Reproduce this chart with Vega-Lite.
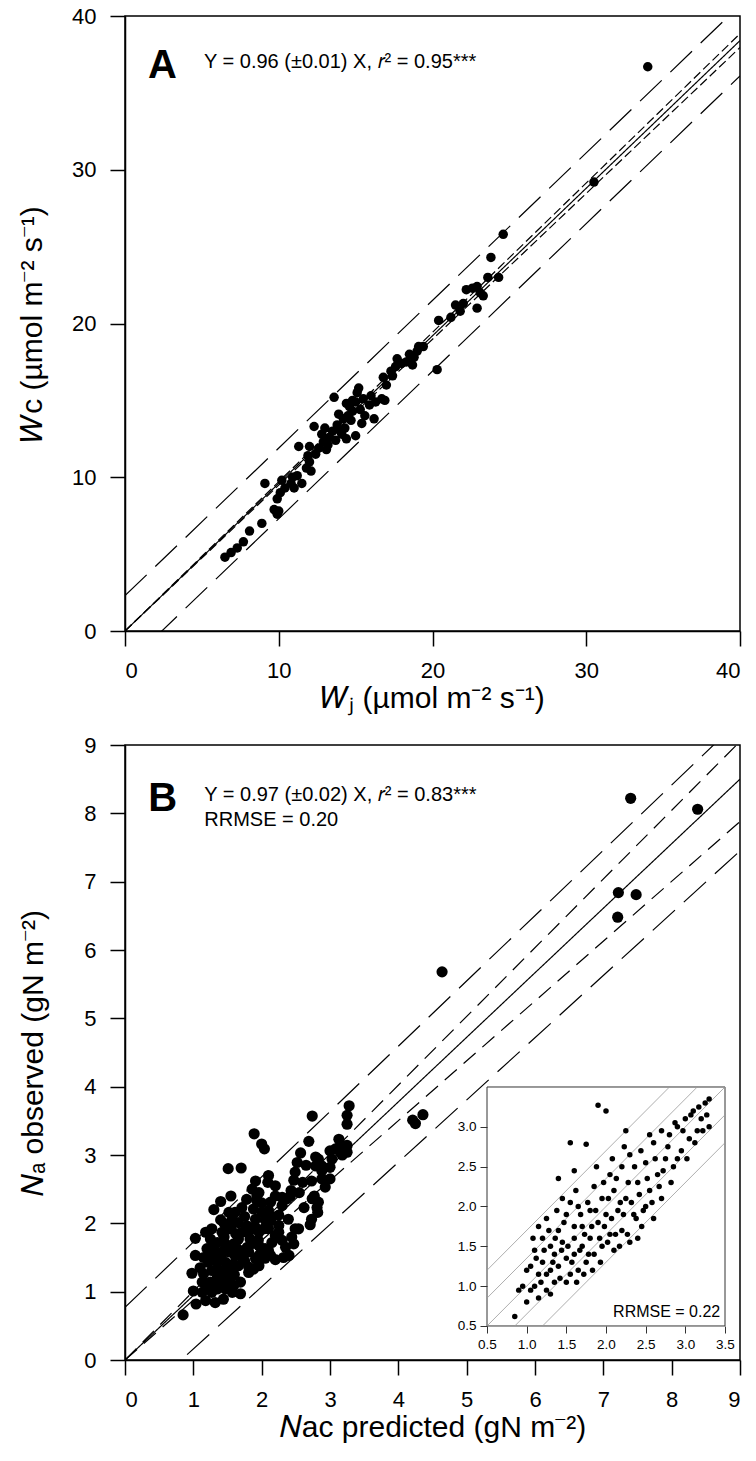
{
"$schema": "https://vega.github.io/schema/vega-lite/v6.json",
"padding": {"left": 16, "top": 4, "right": 18, "bottom": 5},
"spacing": 19,
"config": {
  "font": "Liberation Sans",
  "view": {"stroke": "black", "strokeWidth": 1.5},
  "axis": {"domainColor": "black", "domainWidth": 1.5, "tickColor": "black", "tickWidth": 1.5, "tickSize": 15, "labelFontSize": 22, "labelColor": "black", "labelFont": "Liberation Sans", "titleFont": "Liberation Sans", "titleFontSize": 30, "titleFontWeight": "normal", "titleColor": "black", "labelPadding": 14, "grid": false}
},
"vconcat": [
{
  "width": 615, "height": 615,
  "encoding": {
    "x": {"field": "x", "type": "quantitative", "scale": {"domain": [0, 40], "nice": false}, "axis": {"values": [0, 10, 20, 30, 40], "title": "𝑊ⱼ (µmol m⁻² s⁻¹)", "titlePadding": 2}},
    "y": {"field": "y", "type": "quantitative", "scale": {"domain": [0, 40], "nice": false}, "axis": {"values": [0, 10, 20, 30, 40], "title": "𝑊c (µmol m⁻² s⁻¹)", "titlePadding": 24}}
  },
  "layer": [
    {"data": {"values": [
      {"id": "reg", "s": "solid", "x": 0, "y": 0}, {"id": "reg", "s": "solid", "x": 40, "y": 38.4},
      {"id": "ciu", "s": "short", "x": 0, "y": 0}, {"id": "ciu", "s": "short", "x": 40, "y": 38.85},
      {"id": "cil", "s": "short", "x": 0, "y": 0}, {"id": "cil", "s": "short", "x": 40, "y": 37.95},
      {"id": "piu", "s": "long", "x": 0, "y": 2.3}, {"id": "piu", "s": "long", "x": 40, "y": 40.7},
      {"id": "pil", "s": "long", "x": 0, "y": -2.3}, {"id": "pil", "s": "long", "x": 40, "y": 36.1}
    ]},
     "mark": {"type": "line", "color": "black", "strokeWidth": 1.2, "clip": true},
     "encoding": {"detail": {"field": "id"}, "strokeDash": {"field": "s", "type": "nominal", "scale": {"domain": ["solid", "long", "short", "medium"], "range": [[1, 0], [30, 12], [9, 4], [16, 9]]}, "legend": null}}},
    {"data": {"values": [
      {"x":6.5,"y":4.8},{"x":6.9,"y":5.1},{"x":7.3,"y":5.4},{"x":7.7,"y":5.8},{"x":8.1,"y":6.5},{"x":8.9,"y":7.0},{"x":9.1,"y":9.6},{"x":9.7,"y":7.9},{"x":9.9,"y":7.6},{"x":9.9,"y":8.6},{"x":10.1,"y":9.0},{"x":10.2,"y":9.8},{"x":10.4,"y":9.3},{"x":10.8,"y":9.6},{"x":10.9,"y":10.0},{"x":11.2,"y":10.1},{"x":11.3,"y":12.0},{"x":11.5,"y":9.6},{"x":11.8,"y":10.6},{"x":12.0,"y":11.0},{"x":12.1,"y":10.4},{"x":12.4,"y":11.5},{"x":12.3,"y":13.3},{"x":12.6,"y":11.9},{"x":12.9,"y":12.3},{"x":13.1,"y":11.8},{"x":13.3,"y":12.6},{"x":13.6,"y":15.2},{"x":13.5,"y":13.0},{"x":13.7,"y":12.4},{"x":13.8,"y":13.4},{"x":14.0,"y":13.0},{"x":14.1,"y":12.8},{"x":14.2,"y":13.8},{"x":14.3,"y":13.2},{"x":14.5,"y":14.0},{"x":14.4,"y":12.5},{"x":14.6,"y":14.6},{"x":14.8,"y":14.3},{"x":14.8,"y":15.0},{"x":15.0,"y":14.9},{"x":15.1,"y":15.5},{"x":15.2,"y":15.8},{"x":15.3,"y":14.4},{"x":15.0,"y":12.7},{"x":15.4,"y":13.5},{"x":15.6,"y":14.0},{"x":15.9,"y":14.7},{"x":16.2,"y":13.8},{"x":16.3,"y":14.9},{"x":16.7,"y":15.1},{"x":16.9,"y":15.0},{"x":16.8,"y":16.5},{"x":17.4,"y":16.6},{"x":17.6,"y":17.2},{"x":17.7,"y":17.7},{"x":18.0,"y":17.4},{"x":18.3,"y":17.5},{"x":18.7,"y":17.3},{"x":18.8,"y":17.8},{"x":19.0,"y":18.2},{"x":19.1,"y":18.5},{"x":19.4,"y":18.5},{"x":20.3,"y":17.0},{"x":20.4,"y":20.2},{"x":21.2,"y":20.4},{"x":21.5,"y":21.2},{"x":21.8,"y":20.8},{"x":22.0,"y":21.3},{"x":22.2,"y":22.2},{"x":22.6,"y":22.3},{"x":22.9,"y":22.4},{"x":23.1,"y":22.0},{"x":22.9,"y":21.0},{"x":23.3,"y":21.8},{"x":23.6,"y":23.0},{"x":23.8,"y":24.3},{"x":24.3,"y":23.0},{"x":24.6,"y":25.8},{"x":30.5,"y":29.2},{"x":34.0,"y":36.7},{"x":10.0,"y":7.8},{"x":11.0,"y":9.3},{"x":12.8,"y":12.8},{"x":13.0,"y":13.2},{"x":13.9,"y":14.1},{"x":14.7,"y":13.7},{"x":15.5,"y":15.1},{"x":16.0,"y":15.3},{"x":17.0,"y":16.0},{"x":17.3,"y":16.9},{"x":18.5,"y":18.0},{"x":14.4,"y":14.8},{"x":13.2,"y":12.1},{"x":12.0,"y":12.0},{"x":11.9,"y":11.4}
    ]},
     "mark": {"type": "circle", "color": "black", "opacity": 1, "size": 90}},
    {"data": {"values": [{"x": 1.5, "y": 35.95, "t": "A"}]},
     "mark": {"type": "text", "fontSize": 40, "fontWeight": "bold", "align": "left", "baseline": "alphabetic", "color": "black"},
     "encoding": {"text": {"field": "t"}}},
    {"data": {"values": [{"x": 5.14, "y": 37.0, "t": "Y = 0.96 (±0.01) X, 𝑟² = 0.95***"}]},
     "mark": {"type": "text", "fontSize": 20, "align": "left", "baseline": "middle", "color": "black"},
     "encoding": {"text": {"field": "t"}}}
  ]
},
{
  "width": 615, "height": 615,
  "resolve": {"scale": {"x": "independent", "y": "independent"}},
  "layer": [
    {
      "encoding": {
        "x": {"field": "x", "type": "quantitative", "scale": {"domain": [0, 9], "nice": false}, "axis": {"values": [0, 1, 2, 3, 4, 5, 6, 7, 8, 9], "title": "𝑁ac predicted  (gN m⁻²)", "titlePadding": 2}},
        "y": {"field": "y", "type": "quantitative", "scale": {"domain": [0, 9], "nice": false}, "axis": {"values": [0, 1, 2, 3, 4, 5, 6, 7, 8, 9], "title": "𝑁ₐ observed (gN m⁻²)", "titlePadding": 35}}
      },
      "layer": [
        {"data": {"values": [
          {"id": "reg", "s": "solid", "x": 0, "y": 0}, {"id": "reg", "s": "solid", "x": 9, "y": 8.5},
          {"id": "mu", "s": "medium", "x": 0, "y": 0}, {"id": "mu", "s": "medium", "x": 9, "y": 9.05},
          {"id": "ml", "s": "medium", "x": 0, "y": 0}, {"id": "ml", "s": "medium", "x": 9, "y": 7.88},
          {"id": "lu", "s": "long", "x": 0, "y": 0.77}, {"id": "lu", "s": "long", "x": 9, "y": 9.37},
          {"id": "ll", "s": "long", "x": 0, "y": -0.75}, {"id": "ll", "s": "long", "x": 9, "y": 7.45}
        ]},
         "mark": {"type": "line", "color": "black", "strokeWidth": 1.2, "clip": true},
         "encoding": {"detail": {"field": "id"}, "strokeDash": {"field": "s", "type": "nominal", "scale": {"domain": ["solid", "long", "short", "medium"], "range": [[1, 0], [30, 12], [9, 4], [16, 9]]}, "legend": null}}},
        {"data": {"values": [
          {"x":0.85,"y":0.66},{"x":1.04,"y":0.82},{"x":1.03,"y":1.78},{"x":1.03,"y":1.53},{"x":0.98,"y":1.27},{"x":1.0,"y":1.01},{"x":1.18,"y":1.87},{"x":1.30,"y":2.20},{"x":1.40,"y":2.32},{"x":1.51,"y":2.80},{"x":1.70,"y":2.81},{"x":1.89,"y":3.31},{"x":2.0,"y":3.16},{"x":2.04,"y":3.09},{"x":2.74,"y":3.57},{"x":2.69,"y":3.20},{"x":3.28,"y":3.72},{"x":3.25,"y":3.58},{"x":3.25,"y":3.45},{"x":2.57,"y":3.03},{"x":2.52,"y":2.89},{"x":2.49,"y":2.75},{"x":2.47,"y":2.63},{"x":2.43,"y":2.48},{"x":2.37,"y":2.36},{"x":2.3,"y":2.38},{"x":2.1,"y":2.7},{"x":2.09,"y":2.6},{"x":1.91,"y":2.62},{"x":1.86,"y":2.5},{"x":1.93,"y":2.4},{"x":2.2,"y":2.4},{"x":2.13,"y":2.31},{"x":2.25,"y":2.12},{"x":2.39,"y":2.06},{"x":2.62,"y":2.23},{"x":2.73,"y":2.62},{"x":2.77,"y":2.40},{"x":2.79,"y":2.97},{"x":2.83,"y":2.94},{"x":2.79,"y":2.84},{"x":2.88,"y":2.77},{"x":3.0,"y":2.82},{"x":3.0,"y":3.06},{"x":3.08,"y":3.09},{"x":3.13,"y":3.23},{"x":3.18,"y":3.0},{"x":3.25,"y":3.14},{"x":3.25,"y":3.04},{"x":3.15,"y":3.04},{"x":2.88,"y":2.65},{"x":3.0,"y":2.65},{"x":2.93,"y":2.53},{"x":2.81,"y":2.23},{"x":2.82,"y":2.16},{"x":2.73,"y":2.06},{"x":2.71,"y":1.98},{"x":2.54,"y":1.92},{"x":2.49,"y":1.92},{"x":2.44,"y":1.8},{"x":2.47,"y":1.7},{"x":2.35,"y":1.65},{"x":2.4,"y":1.53},{"x":2.32,"y":1.5},{"x":2.2,"y":1.47},{"x":2.05,"y":1.49},{"x":2.05,"y":1.63},{"x":2.2,"y":1.82},{"x":2.1,"y":1.92},{"x":1.96,"y":1.87},{"x":1.83,"y":1.77},{"x":1.79,"y":1.65},{"x":1.81,"y":1.28},{"x":1.69,"y":1.14},{"x":1.69,"y":0.97},{"x":1.47,"y":1.04},{"x":1.44,"y":0.89},{"x":1.32,"y":0.84},{"x":1.18,"y":0.87},{"x":1.13,"y":0.99},{"x":1.27,"y":0.99},{"x":1.42,"y":1.18},{"x":1.57,"y":1.23},{"x":1.66,"y":1.38},{"x":1.91,"y":1.48},{"x":1.96,"y":1.67},{"x":1.91,"y":2.06},{"x":2.0,"y":2.16},{"x":2.1,"y":2.19},{"x":2.3,"y":2.26},{"x":1.88,"y":2.21},{"x":1.71,"y":2.23},{"x":1.61,"y":2.16},{"x":1.52,"y":2.16},{"x":1.57,"y":2.06},{"x":1.66,"y":2.01},{"x":1.79,"y":1.96},{"x":1.81,"y":1.87},{"x":1.71,"y":1.87},{"x":1.52,"y":1.92},{"x":1.42,"y":1.87},{"x":1.27,"y":1.92},{"x":1.25,"y":1.77},{"x":1.35,"y":1.72},{"x":1.47,"y":1.7},{"x":1.59,"y":1.7},{"x":1.66,"y":1.77},{"x":1.81,"y":1.58},{"x":1.71,"y":1.53},{"x":1.61,"y":1.53},{"x":1.52,"y":1.58},{"x":1.42,"y":1.58},{"x":1.32,"y":1.58},{"x":1.2,"y":1.63},{"x":1.15,"y":1.5},{"x":1.22,"y":1.43},{"x":1.35,"y":1.43},{"x":1.47,"y":1.43},{"x":1.59,"y":1.4},{"x":1.52,"y":1.33},{"x":1.4,"y":1.31},{"x":1.27,"y":1.31},{"x":1.15,"y":1.26},{"x":1.13,"y":1.14},{"x":1.25,"y":1.14},{"x":1.37,"y":1.11},{"x":1.49,"y":1.14},{"x":1.59,"y":1.09},{"x":1.57,"y":0.99},{"x":1.35,"y":1.04},{"x":1.81,"y":1.36},{"x":1.88,"y":1.33},{"x":1.96,"y":1.38},{"x":2.0,"y":1.58},{"x":1.96,"y":1.53},{"x":2.13,"y":1.53},{"x":2.15,"y":1.72},{"x":2.25,"y":1.87},{"x":2.25,"y":1.97},{"x":2.13,"y":2.04},{"x":2.03,"y":1.92},{"x":1.93,"y":2.33},{"x":1.96,"y":2.45},{"x":2.42,"y":2.4},{"x":2.74,"y":2.36},{"x":2.83,"y":2.31},{"x":2.88,"y":2.84},{"x":3.03,"y":2.94},{"x":3.18,"y":3.14},
          {"x":1.3,"y":1.65},{"x":1.45,"y":1.8},{"x":1.55,"y":1.95},{"x":1.6,"y":1.25},{"x":1.75,"y":1.45},{"x":1.85,"y":1.7},{"x":1.4,"y":1.5},{"x":1.25,"y":1.5},{"x":1.35,"y":1.2},{"x":1.5,"y":1.22},{"x":1.65,"y":1.62},{"x":1.75,"y":2.1},{"x":1.9,"y":1.95},{"x":2.05,"y":2.05},{"x":2.15,"y":2.1},{"x":1.2,"y":1.05},{"x":1.1,"y":1.35},{"x":1.45,"y":2.0},{"x":1.62,"y":1.85},{"x":1.95,"y":1.75},{"x":2.1,"y":1.6},{"x":2.3,"y":1.75},{"x":2.6,"y":2.6},{"x":2.65,"y":2.85},{"x":2.55,"y":2.45},{"x":2.2,"y":2.55},{"x":2.0,"y":2.3},{"x":1.78,"y":2.35},{"x":1.55,"y":2.4},{"x":1.4,"y":2.05},
          {"x":7.4,"y":8.22},{"x":8.38,"y":8.06},{"x":7.22,"y":6.84},{"x":7.48,"y":6.81},{"x":7.21,"y":6.48},{"x":4.64,"y":5.68},{"x":4.21,"y":3.51},{"x":4.36,"y":3.59},{"x":4.25,"y":3.46}
        ]},
         "mark": {"type": "circle", "color": "black", "opacity": 1, "size": 125}},
        {"data": {"values": [{"x": 0.34, "y": 8.03, "t": "B"}]},
         "mark": {"type": "text", "fontSize": 40, "fontWeight": "bold", "align": "left", "baseline": "alphabetic", "color": "black"},
         "encoding": {"text": {"field": "t"}}},
        {"data": {"values": [{"x": 1.16, "y": 8.27, "t": "Y = 0.97 (±0.02) X, 𝑟² = 0.83***"}, {"x": 1.16, "y": 7.9, "t": "RRMSE = 0.20"}]},
         "mark": {"type": "text", "fontSize": 20, "align": "left", "baseline": "middle", "color": "black"},
         "encoding": {"text": {"field": "t"}}}
      ]
    },
    {
      "encoding": {
        "x": {"field": "ix", "type": "quantitative", "scale": {"domain": [-4.063, 3.689], "nice": false, "zero": false}, "axis": {"orient": "bottom", "offset": -34, "values": [0.5, 1.0, 1.5, 2.0, 2.5, 3.0, 3.5], "format": ".1f", "domain": false, "tickSize": 7, "tickWidth": 1, "tickColor": "#333", "labelFontSize": 13.5, "labelPadding": 4, "title": null, "zindex": 1}},
        "y": {"field": "iy", "type": "quantitative", "scale": {"domain": [0.073, 7.793], "nice": false, "zero": false}, "axis": {"orient": "left", "offset": -362, "values": [0.5, 1.0, 1.5, 2.0, 2.5, 3.0], "format": ".1f", "domain": false, "tickSize": 7, "tickWidth": 1, "tickColor": "#333", "labelFontSize": 13.5, "labelPadding": 4, "title": null, "zindex": 1}}
      },
      "layer": [
        {"data": {"values": [{"ix": 0.5, "ix2": 3.5, "iy": 0.5, "iy2": 3.5}]},
         "mark": {"type": "rect", "fill": "white", "stroke": "#333", "strokeWidth": 1},
         "encoding": {"x2": {"field": "ix2"}, "y2": {"field": "iy2"}}},
        {"data": {"values": [
          {"id": "a", "ix": 0.5, "iy": 0.5}, {"id": "a", "ix": 3.5, "iy": 3.5},
          {"id": "b", "ix": 0.5, "iy": 1.2}, {"id": "b", "ix": 2.8, "iy": 3.5},
          {"id": "c", "ix": 1.2, "iy": 0.5}, {"id": "c", "ix": 3.5, "iy": 2.8},
          {"id": "d", "ix": 0.5, "iy": 0.85}, {"id": "d", "ix": 3.15, "iy": 3.5},
          {"id": "e", "ix": 0.85, "iy": 0.5}, {"id": "e", "ix": 3.5, "iy": 3.15}
        ]},
         "mark": {"type": "line", "color": "#999", "strokeWidth": 0.8},
         "encoding": {"detail": {"field": "id"}}},
        {"data": {"values": [
          {"ix":0.85,"iy":0.62},{"ix":0.95,"iy":1.0},{"ix":1.0,"iy":0.8},{"ix":1.05,"iy":1.25},{"ix":1.1,"iy":1.45},{"ix":1.1,"iy":1.0},{"ix":1.15,"iy":1.15},{"ix":1.2,"iy":1.6},{"ix":1.2,"iy":1.3},{"ix":1.25,"iy":0.95},{"ix":1.25,"iy":1.85},{"ix":1.3,"iy":1.2},{"ix":1.3,"iy":1.5},{"ix":1.35,"iy":1.4},{"ix":1.35,"iy":1.05},{"ix":1.4,"iy":1.7},{"ix":1.4,"iy":1.25},{"ix":1.45,"iy":1.55},{"ix":1.45,"iy":2.1},{"ix":1.5,"iy":1.35},{"ix":1.5,"iy":1.9},{"ix":1.55,"iy":1.15},{"ix":1.55,"iy":2.8},{"ix":1.6,"iy":1.6},{"ix":1.6,"iy":1.4},{"ix":1.65,"iy":2.0},{"ix":1.65,"iy":1.2},{"ix":1.7,"iy":1.75},{"ix":1.7,"iy":1.5},{"ix":1.75,"iy":2.78},{"ix":1.75,"iy":1.3},{"ix":1.8,"iy":1.95},{"ix":1.8,"iy":1.6},{"ix":1.85,"iy":2.25},{"ix":1.85,"iy":1.4},{"ix":1.9,"iy":3.27},{"ix":1.9,"iy":1.8},{"ix":1.95,"iy":2.1},{"ix":1.95,"iy":1.5},{"ix":2.0,"iy":3.2},{"ix":2.0,"iy":1.9},{"ix":2.05,"iy":2.4},{"ix":2.05,"iy":1.65},{"ix":2.1,"iy":2.2},{"ix":2.1,"iy":1.45},{"ix":2.15,"iy":1.95},{"ix":2.2,"iy":2.5},{"ix":2.2,"iy":1.7},{"ix":2.25,"iy":2.1},{"ix":2.3,"iy":1.55},{"ix":2.3,"iy":2.65},{"ix":2.35,"iy":1.9},{"ix":2.4,"iy":2.3},{"ix":2.45,"iy":1.75},{"ix":2.5,"iy":2.55},{"ix":2.5,"iy":2.0},{"ix":2.55,"iy":2.2},{"ix":2.6,"iy":2.8},{"ix":2.65,"iy":2.4},{"ix":2.7,"iy":2.1},{"ix":2.75,"iy":2.6},{"ix":2.8,"iy":2.9},{"ix":2.85,"iy":2.5},{"ix":2.9,"iy":3.0},{"ix":2.95,"iy":2.7},{"ix":3.0,"iy":3.1},{"ix":3.05,"iy":2.85},{"ix":3.1,"iy":3.2},{"ix":3.15,"iy":2.95},{"ix":3.2,"iy":3.1},{"ix":3.25,"iy":3.3},{"ix":3.3,"iy":3.0},{"ix":3.3,"iy":3.35},
          {"ix":1.0,"iy":1.2},{"ix":1.05,"iy":0.95},{"ix":1.08,"iy":1.6},{"ix":1.12,"iy":1.35},{"ix":1.15,"iy":1.75},{"ix":1.18,"iy":1.05},{"ix":1.22,"iy":1.45},{"ix":1.25,"iy":1.15},{"ix":1.28,"iy":1.7},{"ix":1.3,"iy":0.9},{"ix":1.33,"iy":1.3},{"ix":1.36,"iy":1.6},{"ix":1.38,"iy":1.95},{"ix":1.42,"iy":1.1},{"ix":1.44,"iy":1.45},{"ix":1.47,"iy":1.8},{"ix":1.5,"iy":1.05},{"ix":1.52,"iy":1.5},{"ix":1.55,"iy":2.05},{"ix":1.57,"iy":1.3},{"ix":1.6,"iy":1.75},{"ix":1.62,"iy":2.2},{"ix":1.63,"iy":1.05},{"ix":1.67,"iy":1.45},{"ix":1.68,"iy":1.9},{"ix":1.72,"iy":1.15},{"ix":1.73,"iy":1.65},{"ix":1.77,"iy":2.05},{"ix":1.78,"iy":1.4},{"ix":1.82,"iy":1.75},{"ix":1.83,"iy":1.2},{"ix":1.87,"iy":1.95},{"ix":1.88,"iy":2.5},{"ix":1.92,"iy":1.6},{"ix":1.93,"iy":1.3},{"ix":1.97,"iy":2.3},{"ix":1.98,"iy":1.75},{"ix":2.02,"iy":1.55},{"ix":2.03,"iy":2.1},{"ix":2.07,"iy":1.85},{"ix":2.08,"iy":2.6},{"ix":2.12,"iy":1.65},{"ix":2.13,"iy":2.35},{"ix":2.17,"iy":1.5},{"ix":2.18,"iy":2.05},{"ix":2.22,"iy":1.9},{"ix":2.23,"iy":2.75},{"ix":2.27,"iy":1.65},{"ix":2.28,"iy":2.3},{"ix":2.32,"iy":2.05},{"ix":2.36,"iy":2.5},{"ix":2.38,"iy":1.85},{"ix":2.42,"iy":2.15},{"ix":2.44,"iy":2.7},{"ix":2.47,"iy":1.95},{"ix":2.52,"iy":2.35},{"ix":2.55,"iy":2.9},{"ix":2.58,"iy":2.05},{"ix":2.62,"iy":2.6},{"ix":2.67,"iy":2.25},{"ix":2.7,"iy":2.95},{"ix":2.72,"iy":2.45},{"ix":2.78,"iy":2.75},{"ix":2.82,"iy":2.3},{"ix":2.87,"iy":3.05},{"ix":2.9,"iy":2.6},{"ix":2.97,"iy":2.95},{"ix":3.02,"iy":2.6},{"ix":3.07,"iy":3.15},{"ix":3.12,"iy":2.8},{"ix":3.17,"iy":3.25},{"ix":3.22,"iy":2.95},{"ix":3.27,"iy":3.15},{"ix":1.15,"iy":0.85},{"ix":0.9,"iy":0.95},{"ix":1.4,"iy":2.35},{"ix":1.6,"iy":2.45},{"ix":2.25,"iy":2.95},{"ix":2.4,"iy":1.6},{"ix":2.6,"iy":1.85}
        ]},
         "mark": {"type": "circle", "color": "black", "opacity": 1, "size": 30}},
        {"data": {"values": [{"ix": 3.44, "iy": 0.68, "t": "RRMSE = 0.22"}]},
         "mark": {"type": "text", "fontSize": 16, "align": "right", "baseline": "middle", "color": "black"},
         "encoding": {"text": {"field": "t"}}}
      ]
    }
  ]
}
]
}
